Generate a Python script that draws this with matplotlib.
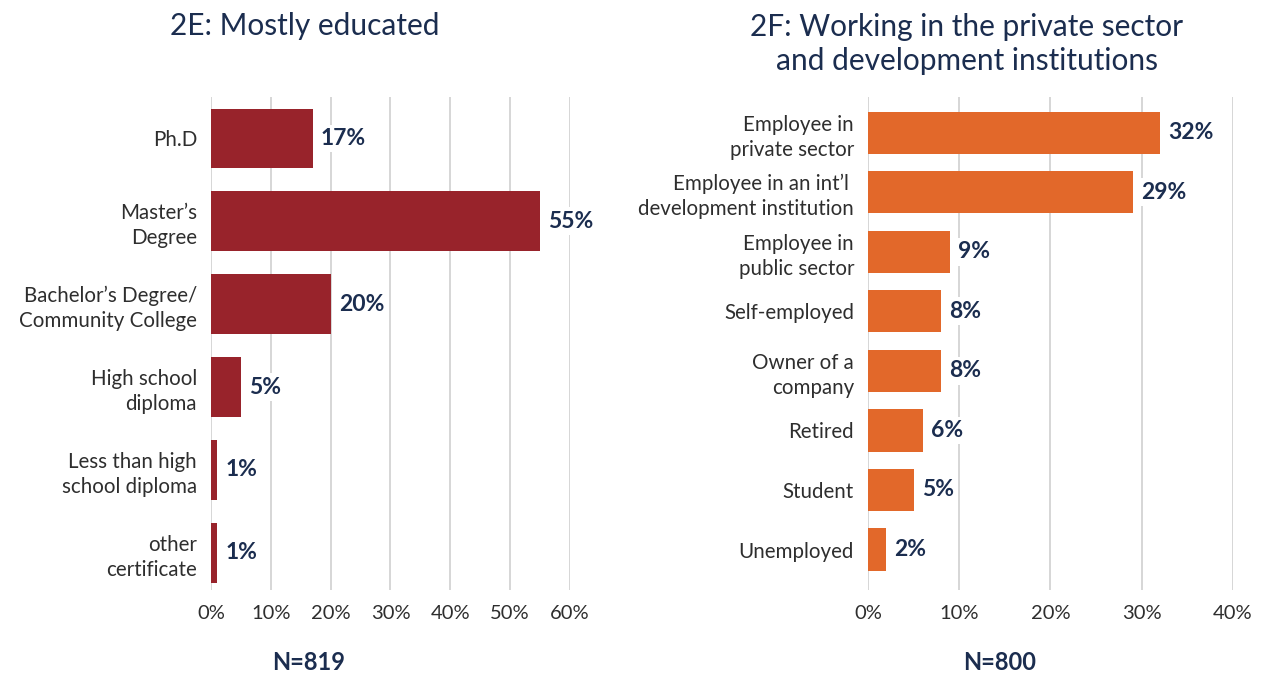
import matplotlib
matplotlib.use("Agg")
import matplotlib.pyplot as plt
from matplotlib.ticker import FuncFormatter

plt.rcParams["font.family"] = ["Lato", "DejaVu Sans"]

edu_labels = [
    "Ph.D",
    "Master\u2019s\nDegree",
    "Bachelor\u2019s Degree/\nCommunity College",
    "High school\ndiploma",
    "Less than high\nschool diploma",
    "other\ncertificate",
]
edu_values = [17, 55, 20, 5, 1, 1]

work_labels = [
    "Employee in\nprivate sector",
    "Employee in an int\u2019l \ndevelopment institution",
    "Employee in\npublic sector",
    "Self-employed",
    "Owner of a\ncompany",
    "Retired",
    "Student",
    "Unemployed",
]
work_values = [32, 29, 9, 8, 8, 6, 5, 2]

RED = "#98232B"
ORANGE = "#E2682A"
NAVY = "#1B2D4F"
GREY_TEXT = "#2E2E2E"
GRID = "#D0D0D0"

fig = plt.figure(figsize=(12.67, 6.77), dpi=100)

ax1 = fig.add_axes([0.1665, 0.1285, 0.2834, 0.7282])
ax2 = fig.add_axes([0.685, 0.1285, 0.2882, 0.7282])


def draw(ax, labels, values, color, xmax, height, ylim):
    pos = list(range(len(values)))
    ax.barh(pos, values, height=height, color=color, zorder=2)
    ax.set_yticks(pos)
    ax.set_yticklabels(labels, fontsize=14.8, color=GREY_TEXT, linespacing=1.3)
    ax.set_ylim(*ylim)
    ax.set_xlim(0, xmax)
    ax.set_xticks(range(0, xmax + 1, 10))
    ax.xaxis.set_major_formatter(FuncFormatter(lambda v, p: f"{v:.0f}%"))
    ax.tick_params(axis="x", labelsize=14.5, labelcolor=GREY_TEXT, length=0, pad=11)
    ax.tick_params(axis="y", length=0, pad=10)
    ax.grid(axis="x", color=GRID, linewidth=1.2, zorder=0)
    ax.set_axisbelow(True)
    for s in ax.spines.values():
        s.set_visible(False)
    for p, v in zip(pos, values):
        ax.annotate(
            f"{v}%", (v, p), xytext=(6, 0), textcoords="offset points",
            ha="left", va="center", fontsize=16.5, fontweight="bold", color=NAVY,
            bbox=dict(boxstyle="square,pad=0.15", facecolor="white", edgecolor="none"),
            zorder=3,
        )


draw(ax1, edu_labels, edu_values, RED, 60, 0.72, (5.45, -0.5))
draw(ax2, work_labels, work_values, ORANGE, 40, 0.71, (7.68, -0.6))

fig.text(305 / 1267, 1 - 26 / 677, "2E: Mostly educated", ha="center", va="center",
         fontsize=21.5, color=NAVY)
fig.text(967 / 1267, 1 - 44 / 677,
         "2F: Working in the private sector\nand development institutions",
         ha="center", va="center", fontsize=21.5, color=NAVY, linespacing=1.22)

fig.text(309 / 1267, 1 - 663 / 677, "N=819", ha="center", va="center",
         fontsize=17, fontweight="bold", color=NAVY)
fig.text(1000 / 1267, 1 - 663 / 677, "N=800", ha="center", va="center",
         fontsize=17, fontweight="bold", color=NAVY)

fig.savefig("out.png", dpi=100)
